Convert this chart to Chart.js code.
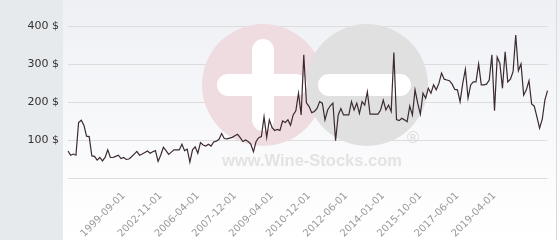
<!DOCTYPE html>
<html>
<head>
<meta charset="utf-8">
<script src="https://cdn.jsdelivr.net/npm/chart.js@4.4.1/dist/chart.umd.min.js"></script>
<style>
    html, body { margin: 0; padding: 0; background: #fff; }
    #wrap { width: 560px; height: 240px; }
</style>
</head>
<body>
<div id="wrap"><canvas id="priceChart" width="560" height="240"></canvas></div>
<script>
// price history ($), one value per quote
const prices = [
    71, 60, 63, 60, 146, 152, 139, 110, 109, 58,
    57, 47, 54, 45, 54, 74, 54, 54, 57, 60,
    51, 54, 49, 50, 56, 63, 70, 60, 63, 67,
    71, 65, 69, 72, 44, 60, 81, 72, 62, 68,
    74, 74, 74, 89, 72, 76, 42, 74, 82, 65,
    93, 87, 84, 89, 84, 95, 97, 102, 117, 104,
    103, 105, 107, 111, 115, 106, 96, 100, 96, 89,
    69, 96, 106, 109, 161, 107, 153, 133, 125, 128,
    125, 150, 146, 153, 139, 166, 177, 223, 166, 324,
    198, 188, 172, 175, 183, 201, 197, 153, 179, 190,
    197, 98, 166, 183, 166, 166, 166, 201, 179, 197,
    170, 201, 192, 227, 168, 168, 168, 168, 179, 205,
    179, 192, 175, 330, 154, 151, 157, 153, 148, 189,
    166, 232, 197, 168, 223, 210, 236, 223, 245, 232,
    249, 276, 260, 258, 256, 247, 233, 232, 201, 249,
    286, 210, 245, 253, 253, 300, 245, 245, 247, 258,
    324, 177, 318, 302, 236, 332, 253, 260, 280, 376,
    282, 300, 218, 232, 256, 195, 189, 161, 131, 154,
    205, 230
];

// dates shown under the axis
const tickDates = [
    '1999-09-01', '2002-11-01', '2006-04-01', '2007-12-01', '2009-04-01', '2010-12-01',
    '2012-06-01', '2014-01-01', '2015-10-01', '2017-06-01', '2019-04-01'
];
const firstTick = 21;
const tickStep = 14;

const yMin = 0;
const yMax = 400;
const yStep = 100;

// fond gris à gauche + dégradé + filigrane
const backgroundPlugin = {
    id: 'background',
    beforeDraw(chart) {
        const ctx = chart.ctx;
        const w = chart.width, h = chart.height;
        ctx.save();
        const grad = ctx.createLinearGradient(0, 0, 0, h);
        grad.addColorStop(0, '#eef0f4');
        grad.addColorStop(0.75, '#fcfcfd');
        grad.addColorStop(1, '#ffffff');
        ctx.fillStyle = grad;
        ctx.fillRect(0, 0, w, h);
        ctx.fillStyle = '#e6eaed';
        ctx.fillRect(0, 0, 63, h);
        ctx.strokeStyle = '#dadada';
        ctx.lineWidth = 1;
        ctx.beginPath();
        ctx.moveTo(556.5, 0);
        ctx.lineTo(556.5, h);
        ctx.stroke();
        ctx.restore();
    },
    beforeDatasetsDraw(chart) {
        const ctx = chart.ctx;
        ctx.save();
        ctx.fillStyle = '#efdce0';
        ctx.beginPath();
        ctx.arc(263, 85, 61, 0, Math.PI * 2);
        ctx.fill();
        ctx.fillStyle = '#e0e0e0';
        ctx.beginPath();
        ctx.arc(367, 85, 61, 0, Math.PI * 2);
        ctx.fill();

        ctx.fillStyle = '#ffffff';
        ctx.beginPath();
        ctx.roundRect(217, 74, 90, 22, 11);
        ctx.fill();
        ctx.beginPath();
        ctx.roundRect(252, 39, 22, 92, 11);
        ctx.fill();
        ctx.beginPath();
        ctx.roundRect(318, 74, 93, 22, 11);
        ctx.fill();

        ctx.fillStyle = '#e3e3e3';
        ctx.font = 'bold 16.5px "Liberation Sans", Arial, sans-serif';
        ctx.textAlign = 'center';
        ctx.textBaseline = 'middle';
        ctx.fillText('www.Wine-Stocks.com', 312, 161);
        ctx.fillStyle = '#dcdcdc';
        ctx.font = '16px "DejaVu Sans", sans-serif';
        ctx.fillText('®', 413, 139);
        ctx.restore();
    }
};

const ctx = document.getElementById('priceChart');

new Chart(ctx, {
    type: 'line',
    data: {
        labels: prices.map((p, i) => i),
        datasets: [{
            label: 'Prix',
            data: prices,
            borderColor: '#3b2a30',
            borderWidth: 1.2,
            pointRadius: 0,
            tension: 0,
            fill: false
        }]
    },
    options: {
        responsive: false,
        animation: false,
        devicePixelRatio: 1,
        layout: {
            padding: { top: 26, right: 6, left: 0, bottom: 0 }
        },
        plugins: {
            legend: { display: false },
            tooltip: { enabled: false }
        },
        scales: {
            x: {
                type: 'category',
                offset: false,
                grid: { display: false },
                border: { display: false },
                ticks: {
                    autoSkip: false,
                    maxRotation: 45,
                    minRotation: 45,
                    padding: 4,
                    color: '#999999',
                    font: { family: 'DejaVu Sans', size: 10 },
                    callback: (v, i) => {
                        if (i < firstTick || (i - firstTick) % tickStep !== 0) return '';
                        return tickDates[(i - firstTick) / tickStep] || '';
                    }
                },
                afterFit: scale => { scale.height = 62; }
            },
            y: {
                min: yMin,
                max: yMax,
                grid: { color: '#dcdcdc', drawTicks: false },
                border: { display: false },
                ticks: {
                    stepSize: yStep,
                    padding: 9,
                    color: '#333333',
                    font: { family: 'DejaVu Sans', size: 11 },
                    callback: v => v === 0 ? '' : v + ' $'
                },
                afterFit: scale => { scale.width = 68; }
            }
        }
    },
    plugins: [backgroundPlugin]
});
</script>
</body>
</html>
